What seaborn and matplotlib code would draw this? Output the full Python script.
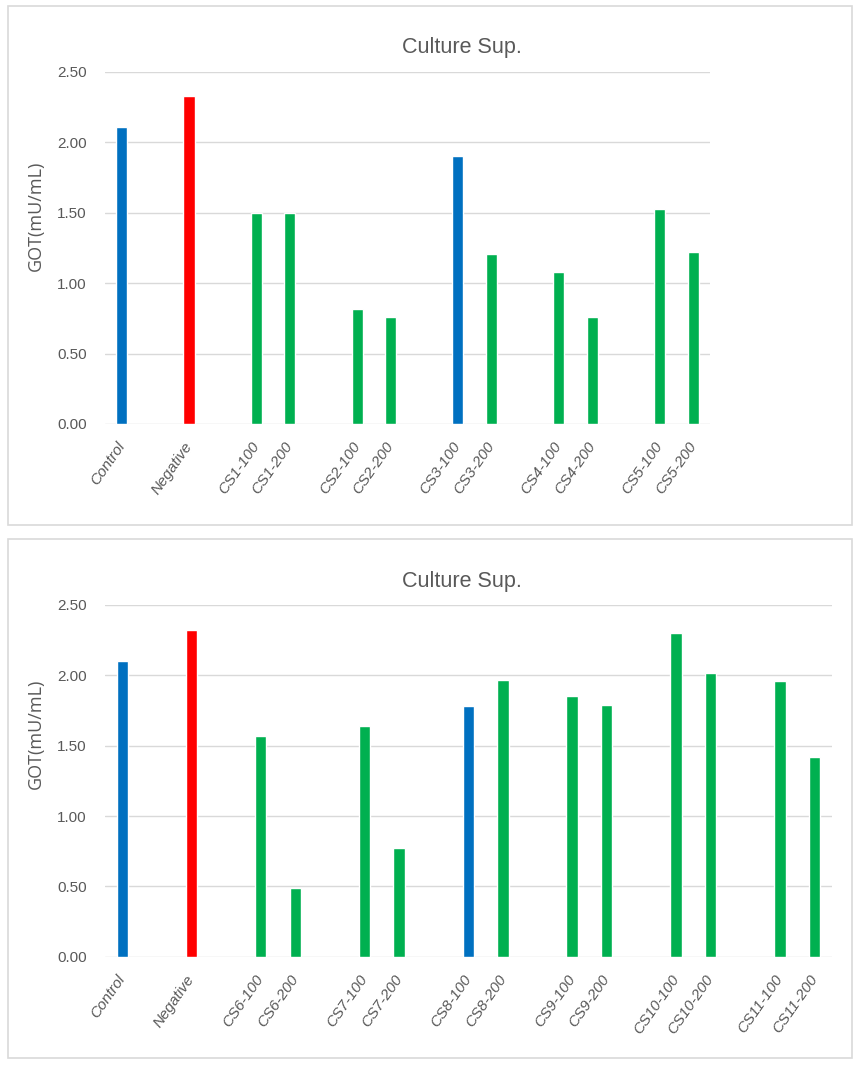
import matplotlib
matplotlib.use('Agg')
import matplotlib.pyplot as plt
import seaborn as sns
import pandas as pd
from matplotlib import font_manager
from matplotlib.patches import Rectangle

top_labels = ["Control", "Negative", "CS1-100", "CS1-200", "CS2-100", "CS2-200",
              "CS3-100", "CS3-200", "CS4-100", "CS4-200", "CS5-100", "CS5-200"]
top_values = [2.11, 2.33, 1.50, 1.50, 0.82, 0.76, 1.90, 1.21, 1.08, 0.76, 1.53, 1.22]

bottom_labels = ["Control", "Negative", "CS6-100", "CS6-200", "CS7-100", "CS7-200",
                 "CS8-100", "CS8-200", "CS9-100", "CS9-200", "CS10-100", "CS10-200",
                 "CS11-100", "CS11-200"]
bottom_values = [2.10, 2.32, 1.57, 0.49, 1.64, 0.77, 1.78, 1.97, 1.85, 1.79,
                 2.30, 2.02, 1.96, 1.42]

blue_labels = ["Control", "CS3-100", "CS8-100"]
red_labels = ["Negative"]

BLUE, RED, GREEN = '#0070C0', '#FF0000', '#00B050'
GRID = '#d9d9d9'
TXT = '#595959'

sns.set_style("white")
names = {f.name for f in font_manager.fontManager.ttflist}
narrow = 'Liberation Sans Narrow' if 'Liberation Sans Narrow' in names else 'Liberation Sans'
plt.rcParams['font.family'] = [narrow, 'DejaVu Sans']

W, H = 863, 1072


def group_order(labels):
    # insert an empty slot between sample groups, like the Excel original
    order = []
    prev = None
    for i, lab in enumerate(labels):
        grp = lab.split('-')[0]
        if prev is not None and grp != prev:
            order.append(f'_gap{i}')
        order.append(lab)
        prev = grp
    return order


def draw_panel(ax, labels, values):
    df = pd.DataFrame({'sample': labels, 'got': values})
    order = group_order(labels)
    palette = {}
    for lab in labels:
        if lab in blue_labels:
            palette[lab] = BLUE
        elif lab in red_labels:
            palette[lab] = RED
        else:
            palette[lab] = GREEN
    sns.barplot(data=df, x='sample', y='got', hue='sample', order=order,
                palette=palette, width=0.33, saturation=1, legend=False, ax=ax)
    ax.set_axisbelow(True)
    ax.yaxis.grid(True, color=GRID, lw=1)
    for s in ax.spines.values():
        s.set_visible(False)
    ax.set_ylim(0, 2.5)
    ax.set_yticks([0, 0.5, 1.0, 1.5, 2.0, 2.5])
    ax.set_yticklabels([f'{v:.2f}' for v in [0, 0.5, 1.0, 1.5, 2.0, 2.5]],
                       fontsize=11, color=TXT)
    ax.set_xticks(range(len(order)))
    ax.set_xticklabels(['' if o.startswith('_gap') else o for o in order],
                       rotation=55, ha='right', va='center', rotation_mode='anchor',
                       fontsize=11, style='italic', color=TXT)
    ax.tick_params(axis='both', length=0)
    ax.tick_params(axis='y', pad=13)
    ax.tick_params(axis='x', pad=14)
    ax.set_xlabel('')
    ax.set_ylabel('')


fig = plt.figure(figsize=(W / 100, H / 100), dpi=100)

# panel frames
for y0, y1 in [(6, 525), (539, 1058)]:
    fig.add_artist(Rectangle((8 / W, 1 - y1 / H), (852 - 8) / W, (y1 - y0) / H,
                             transform=fig.transFigure, fill=False, ec=GRID, lw=1.2))

ax1 = fig.add_axes([105 / W, 1 - 424 / H, (710 - 105) / W, (424 - 72) / H])
draw_panel(ax1, top_labels, top_values)

ax2 = fig.add_axes([105 / W, 1 - 956.7 / H, (831.7 - 105) / W, (956.7 - 605) / H])
draw_panel(ax2, bottom_labels, bottom_values)

for ty, ly in [(48, 216), (582, 734)]:
    fig.text(462 / W, 1 - ty / H, 'Culture Sup.', ha='center', va='center',
             fontsize=15.5, color=TXT)
    fig.text(36 / W, 1 - ly / H, 'GOT(mU/mL)', rotation=90, ha='center', va='center',
             fontsize=13, color=TXT, family=['Open Sans', 'DejaVu Sans'])

fig.savefig('out.png', dpi=100)
